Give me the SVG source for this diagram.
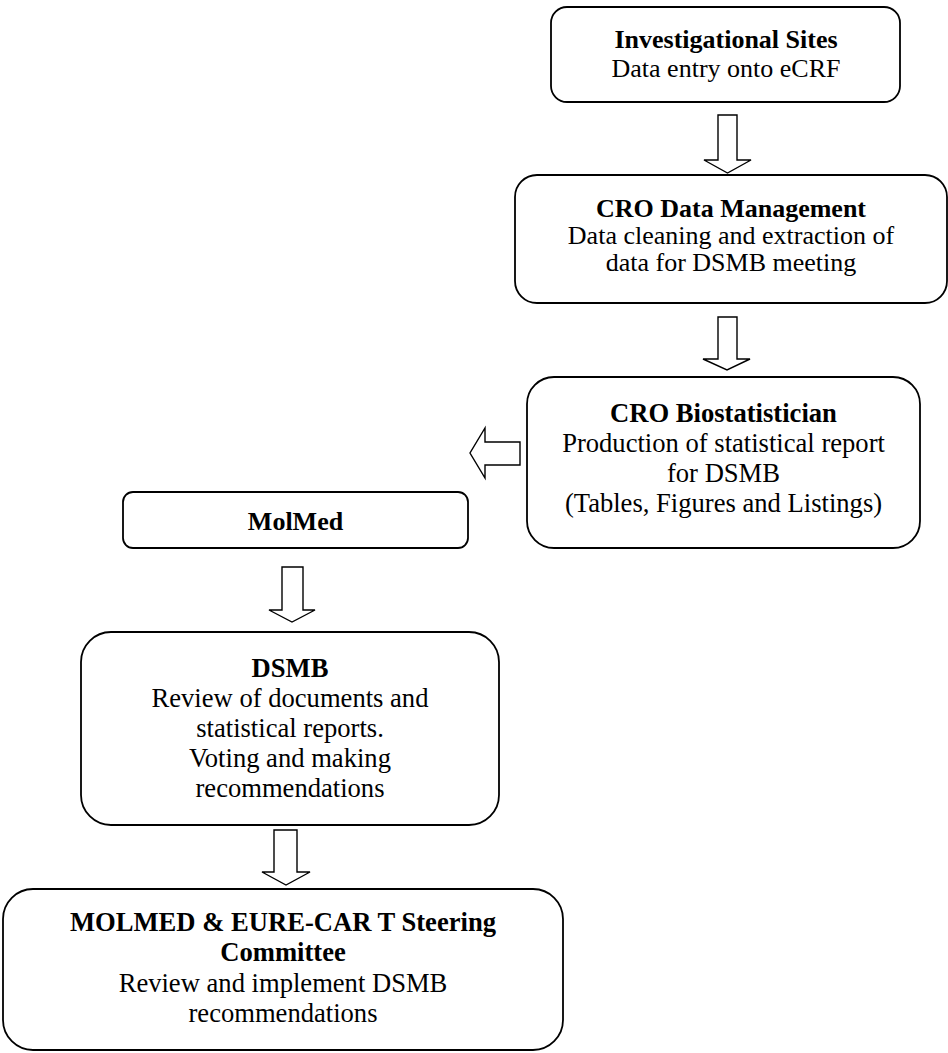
<svg xmlns="http://www.w3.org/2000/svg" width="948" height="1053" viewBox="0 0 948 1053">
<style>
.box{fill:#fff;stroke:#000;stroke-width:1.8}
.arr{fill:#fff;stroke:#000;stroke-width:1.4;stroke-linejoin:miter}
text{font-family:"Liberation Serif","Times New Roman",serif;font-size:26px;fill:#000;text-anchor:middle}
.l{font-size:26.6px}
.b{font-weight:bold}
</style>
<rect width="948" height="1053" fill="#fff"/>
<g id="connectors">
<polygon class="arr" points="718,115 737,115 737,160 751,160 727.5,173 704,160 718,160"/>
<polygon class="arr" points="718,317 737,317 737,359 750,359 727,370 703,359 718,359"/>
<polygon class="arr" points="520,442 520,465 485,465 485,478 470,453 485,428 485,442"/>
<polygon class="arr" points="282,567 303,567 303,610 315,610 292,622 269,610 282,610"/>
<polygon class="arr" points="274,830 297,830 297,872 310,872 286,885 262,872 274,872"/>
</g>
<g id="investigational-sites">
<rect class="box" x="551" y="7" width="349" height="95" rx="16"/>
<text class="b" x="726" y="48">Investigational Sites</text>
<text x="726" y="77">Data entry onto eCRF</text>
</g>
<g id="cro-data-management">
<rect class="box" x="515" y="175" width="432" height="128" rx="22"/>
<text class="b" x="731" y="217">CRO Data Management</text>
<text x="731" y="244">Data cleaning and extraction of</text>
<text x="731" y="271">data for DSMB meeting</text>
</g>
<g id="cro-biostatistician">
<rect class="box" x="527" y="377" width="393" height="171" rx="27"/>
<text class="b l" x="723.5" y="422">CRO Biostatistician</text>
<text class="l" x="723.5" y="452">Production of statistical report</text>
<text class="l" x="723.5" y="482">for DSMB</text>
<text class="l" x="723.5" y="512">(Tables, Figures and Listings)</text>
</g>
<g id="molmed">
<rect class="box" x="123" y="492" width="345" height="56" rx="10"/>
<text class="b" x="295.5" y="530">MolMed</text>
</g>
<g id="dsmb">
<rect class="box" x="81" y="632" width="418" height="193" rx="30"/>
<text class="b l" x="290" y="677">DSMB</text>
<text class="l" x="290" y="707">Review of documents and</text>
<text class="l" x="290" y="737">statistical reports.</text>
<text class="l" x="290" y="767">Voting and making</text>
<text class="l" x="290" y="797">recommendations</text>
</g>
<g id="steering-committee">
<rect class="box" x="3" y="889" width="560" height="161" rx="30"/>
<text class="b l" x="283" y="931">MOLMED &amp; EURE-CAR T Steering</text>
<text class="b l" x="283" y="961">Committee</text>
<text class="l" x="283" y="992">Review and implement DSMB</text>
<text class="l" x="283" y="1022">recommendations</text>
</g>
</svg>
